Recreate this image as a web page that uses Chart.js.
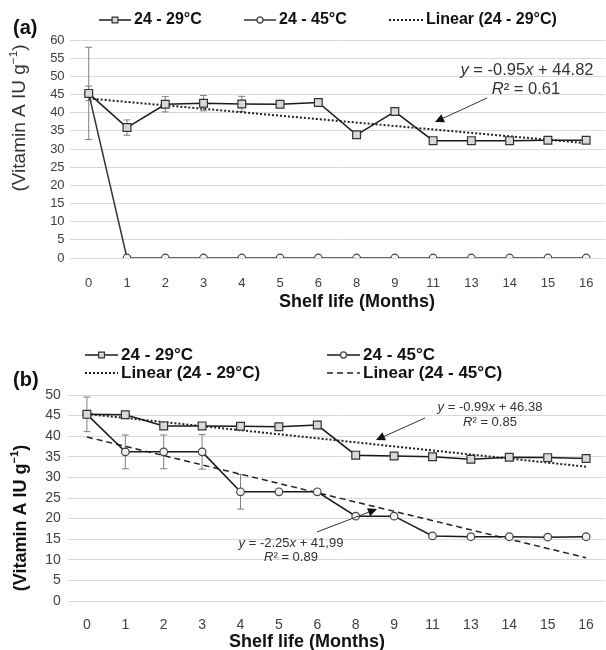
<!DOCTYPE html>
<html>
<head>
<meta charset="utf-8">
<script src="https://cdn.jsdelivr.net/npm/chart.js@4.4.1/dist/chart.umd.min.js"></script>
<style>
    html, body { margin: 0; padding: 0; background: #fff; overflow: hidden; width: 606px; height: 650px; }
    canvas { position: absolute; left: 0; }
    #chartA { top: 0; }
    #chartB { top: 315px; }
</style>
</head>
<body>
<canvas id="chartA" width="612" height="312"></canvas>
<canvas id="chartB" width="612" height="335"></canvas>
<script>
// shelf life months (category axis)
var months = ['0', '1', '2', '3', '4', '5', '6', '8', '9', '11', '13', '14', '15', '16'];

// panel (a)
var aLow = [45.3, 35.9, 42.3, 42.6, 42.4, 42.3, 42.8, 33.9, 40.3, 32.3, 32.3, 32.3, 32.4, 32.4];
var aLowErr = [2.0, 2.1, 2.1, 2.1, 2.1, 0, 0, 0, 0, 0, 0, 0, 0, 0];
var aHigh = [45.3, 0, 0, 0, 0, 0, 0, 0, 0, 0, 0, 0, 0, 0];
var aHighErr = [12.7, 0, 0, 0, 0, 0, 0, 0, 0, 0, 0, 0, 0, 0];
var aTrendLow = [43.9, null, null, null, null, null, null, null, null, null, null, null, null, 31.6];

// panel (b)
var bLow = [45.3, 45.2, 42.5, 42.5, 42.4, 42.3, 42.7, 35.4, 35.2, 35.0, 34.4, 34.9, 34.8, 34.6];
var bLowErr = [0, 0, 0, 0, 0, 0, 0, 0, 0, 0, 0, 0, 0, 0];
var bHigh = [45.3, 36.2, 36.2, 36.2, 26.5, 26.5, 26.5, 20.6, 20.6, 15.8, 15.6, 15.6, 15.5, 15.6];
var bHighErr = [4.2, 4.1, 4.1, 4.2, 4.2, 0, 0, 0, 0, 0, 0, 0, 0, 0];
var bTrendLow = [45.4, null, null, null, null, null, null, null, null, null, null, null, null, 32.6];
var bTrendHigh = [39.8, null, null, null, null, null, null, null, null, null, null, null, null, 10.5];

var FONT = "'Liberation Sans', Arial, sans-serif";
var INK = '#1a1a1a';
var GREY_TXT = '#404040';

function squareSeries(label, data, err) {
    return {
        label: label, data: data, err: err, order: 1,
        borderColor: INK, borderWidth: 1.5, tension: 0,
        pointStyle: 'rect', pointRadius: 5.5, pointBorderWidth: 1.2,
        pointBackgroundColor: '#d9d9d9', pointBorderColor: '#333'
    };
}

function circleSeries(label, data, err) {
    return {
        label: label, data: data, err: err, order: 2,
        borderColor: INK, borderWidth: 1.5, tension: 0,
        pointStyle: 'circle', pointRadius: 3.8, pointBorderWidth: 1.2,
        pointBackgroundColor: '#f2f2f2', pointBorderColor: '#444'
    };
}

function trendSeries(label, data, dash, width) {
    return {
        label: label, data: data, order: 5, spanGaps: true,
        borderColor: '#222', borderWidth: width, borderDash: dash,
        pointRadius: 0, tension: 0
    };
}

// draw a run of text pieces [text, style, sizeFactor, raise]
function drawPieces(ctx, pieces, x, y, size, weight, align) {
    var widths = pieces.map(function (p) {
        ctx.font = (p[1] || '') + ' ' + weight + ' ' + (size * (p[2] || 1)) + 'px ' + FONT;
        return ctx.measureText(p[0]).width;
    });
    var total = widths.reduce(function (s, w) { return s + w; }, 0);
    var cx = align === 'center' ? x - total / 2 : x;
    ctx.textAlign = 'left';
    ctx.textBaseline = 'middle';
    pieces.forEach(function (p, i) {
        ctx.font = (p[1] || '') + ' ' + weight + ' ' + (size * (p[2] || 1)) + 'px ' + FONT;
        ctx.fillText(p[0], cx, y - (p[3] || 0));
        cx += widths[i];
    });
}

function drawArrow(ctx, x0, y0, x1, y1) {
    var ang = Math.atan2(y1 - y0, x1 - x0);
    ctx.save();
    ctx.strokeStyle = '#333';
    ctx.fillStyle = '#111';
    ctx.lineWidth = 1;
    ctx.beginPath();
    ctx.moveTo(x0, y0);
    ctx.lineTo(x1 - Math.cos(ang) * 6, y1 - Math.sin(ang) * 6);
    ctx.stroke();
    ctx.beginPath();
    ctx.moveTo(x1, y1);
    ctx.lineTo(x1 - Math.cos(ang - 0.45) * 10, y1 - Math.sin(ang - 0.45) * 10);
    ctx.lineTo(x1 - Math.cos(ang + 0.45) * 10, y1 - Math.sin(ang + 0.45) * 10);
    ctx.closePath();
    ctx.fill();
    ctx.restore();
}

function drawLegendItem(ctx, ds, x0, x1, y, text, size) {
    ctx.save();
    ctx.strokeStyle = ds.borderColor;
    ctx.lineWidth = ds.borderWidth;
    ctx.setLineDash(ds.borderDash || []);
    ctx.beginPath();
    ctx.moveTo(x0, y);
    ctx.lineTo(x1, y);
    ctx.stroke();
    ctx.setLineDash([]);
    if (ds.pointRadius) {
        var mx = (x0 + x1) / 2;
        ctx.fillStyle = ds.pointBackgroundColor;
        ctx.strokeStyle = ds.pointBorderColor;
        ctx.lineWidth = ds.pointBorderWidth;
        ctx.beginPath();
        if (ds.pointStyle === 'rect') {
            var h = ds.pointRadius * 0.75 * Math.SQRT1_2;
            ctx.rect(mx - h, y - h, 2 * h, 2 * h);
        } else {
            ctx.arc(mx, y, ds.pointRadius * 0.8, 0, Math.PI * 2);
        }
        ctx.fill();
        ctx.stroke();
    }
    ctx.fillStyle = '#111';
    drawPieces(ctx, [[text]], x1 + 3, y, size, 'bold', 'left');
    ctx.restore();
}

var errorBars = {
    id: 'errorBars',
    beforeDatasetsDraw: function (chart) {
        var ctx = chart.ctx;
        var xs = chart.scales.x, ys = chart.scales.y;
        ctx.save();
        ctx.strokeStyle = '#7f7f7f';
        ctx.lineWidth = 1;
        chart.data.datasets.forEach(function (ds) {
            if (!ds.err) return;
            ds.data.forEach(function (v, i) {
                var e = ds.err[i];
                if (!e) return;
                var x = xs.getPixelForValue(i);
                var yt = ys.getPixelForValue(v + e), yb = ys.getPixelForValue(v - e);
                ctx.beginPath();
                ctx.moveTo(x, yt); ctx.lineTo(x, yb);
                ctx.moveTo(x - 3.5, yt); ctx.lineTo(x + 3.5, yt);
                ctx.moveTo(x - 3.5, yb); ctx.lineTo(x + 3.5, yb);
                ctx.stroke();
            });
        });
        ctx.restore();
    }
};

function makeChart(id, datasets, opts) {
    return new Chart(document.getElementById(id), {
        type: 'line',
        data: { labels: months, datasets: datasets },
        options: {
            responsive: false,
            animation: false,
            devicePixelRatio: 1,
            layout: { padding: { top: opts.top, right: opts.right, left: 0, bottom: 0 } },
            plugins: { legend: { display: false }, tooltip: { enabled: false } },
            scales: {
                x: {
                    offset: true,
                    grid: { display: false },
                    border: { display: false },
                    ticks: {
                        autoSkip: false, maxRotation: 0, padding: opts.xPad,
                        color: GREY_TXT, font: { family: FONT, size: opts.tick }
                    },
                    afterFit: function (scale) { scale.height = opts.xHeight; }
                },
                y: {
                    min: 0, max: opts.max,
                    grid: { color: '#d9d9d9', lineWidth: 1, drawTicks: false },
                    border: { display: false },
                    ticks: {
                        stepSize: 5, autoSkip: false, padding: opts.yPad,
                        color: GREY_TXT, font: { family: FONT, size: opts.tick }
                    },
                    afterFit: function (scale) { scale.width = opts.left; }
                }
            }
        },
        plugins: [errorBars, {
            id: 'decor',
            afterDraw: function (chart) {
                opts.decor(chart.ctx, chart);
            }
        }]
    });
}

// ---- panel (a)
var dsA = [
    squareSeries('24 - 29°C', aLow, aLowErr),
    circleSeries('24 - 45°C', aHigh, aHighErr),
    trendSeries('Linear (24 - 29°C)', aTrendLow, [2, 2], 2)
];
dsA[1].borderColor = '#333';

makeChart('chartA', dsA, {
    top: 40, right: 3.8, left: 69.6, xHeight: 54, xPad: 10, yPad: 5, tick: 13, max: 60,
    decor: function (ctx) {
        ctx.save();
        ctx.fillStyle = '#111';
        drawPieces(ctx, [['(a)']], 13, 28, 20, 'bold', 'left');
        drawLegendItem(ctx, dsA[0], 99, 131, 20, dsA[0].label, 16);
        drawLegendItem(ctx, dsA[1], 244, 276, 20, dsA[1].label, 16);
        drawLegendItem(ctx, dsA[2], 389, 423, 20, dsA[2].label, 16);
        drawPieces(ctx, [['Shelf life (Months)']], 357, 302, 18, 'bold', 'center');

        ctx.fillStyle = '#333';
        drawPieces(ctx, [['y', 'italic'], [' = -0.95'], ['x', 'italic'], [' + 44.82']], 527, 70, 16.5, 'normal', 'center');
        drawPieces(ctx, [['R', 'italic'], ['² = 0.61']], 526, 89, 16.5, 'normal', 'center');
        drawArrow(ctx, 487, 98, 435, 122);

        ctx.translate(20, 118);
        ctx.rotate(-Math.PI / 2);
        drawPieces(ctx, [['(Vitamin A IU g'], ['\u22121', '', 0.62, 6], [')']], 0, 0, 19, 'normal', 'center');
        ctx.restore();
    }
});

// ---- panel (b)
var dsB = [
    squareSeries('24 - 29°C', bLow, bLowErr),
    circleSeries('24 - 45°C', bHigh, bHighErr),
    trendSeries('Linear (24 - 29°C)', bTrendLow, [2, 2], 2),
    trendSeries('Linear (24 - 45°C)', bTrendHigh, [6, 4], 1.5)
];

makeChart('chartB', dsB, {
    top: 80, right: 2.7, left: 67.7, xHeight: 49, xPad: 8, yPad: 7, tick: 14, max: 50,
    decor: function (ctx) {
        ctx.save();
        ctx.translate(0, -315);
        ctx.fillStyle = '#111';
        drawPieces(ctx, [['(b)']], 13, 380, 20, 'bold', 'left');
        drawLegendItem(ctx, dsB[0], 85, 118, 355, dsB[0].label, 17);
        drawLegendItem(ctx, dsB[1], 327, 360, 355, dsB[1].label, 17);
        drawLegendItem(ctx, dsB[2], 85, 118, 373, dsB[2].label, 17);
        drawLegendItem(ctx, dsB[3], 327, 360, 373, dsB[3].label, 17);
        drawPieces(ctx, [['Shelf life (Months)']], 307, 642, 18, 'bold', 'center');

        ctx.fillStyle = '#333';
        drawPieces(ctx, [['y', 'italic'], [' = -0.99'], ['x', 'italic'], [' + 46.38']], 490, 407, 13, 'normal', 'center');
        drawPieces(ctx, [['R', 'italic'], ['² = 0.85']], 490, 422, 13, 'normal', 'center');
        drawArrow(ctx, 425, 418, 376, 440);
        drawPieces(ctx, [['y', 'italic'], [' = -2.25'], ['x', 'italic'], [' + 41,99']], 291, 543, 13, 'normal', 'center');
        drawPieces(ctx, [['R', 'italic'], ['² = 0.89']], 291, 557, 13, 'normal', 'center');
        drawArrow(ctx, 317, 532, 377, 509);

        ctx.fillStyle = '#111';
        ctx.translate(21, 518);
        ctx.rotate(-Math.PI / 2);
        drawPieces(ctx, [['(Vitamin A IU g'], ['\u22121', '', 0.62, 6], [')']], 0, 0, 18, 'bold', 'center');
        ctx.restore();
    }
});
</script>
</body>
</html>
